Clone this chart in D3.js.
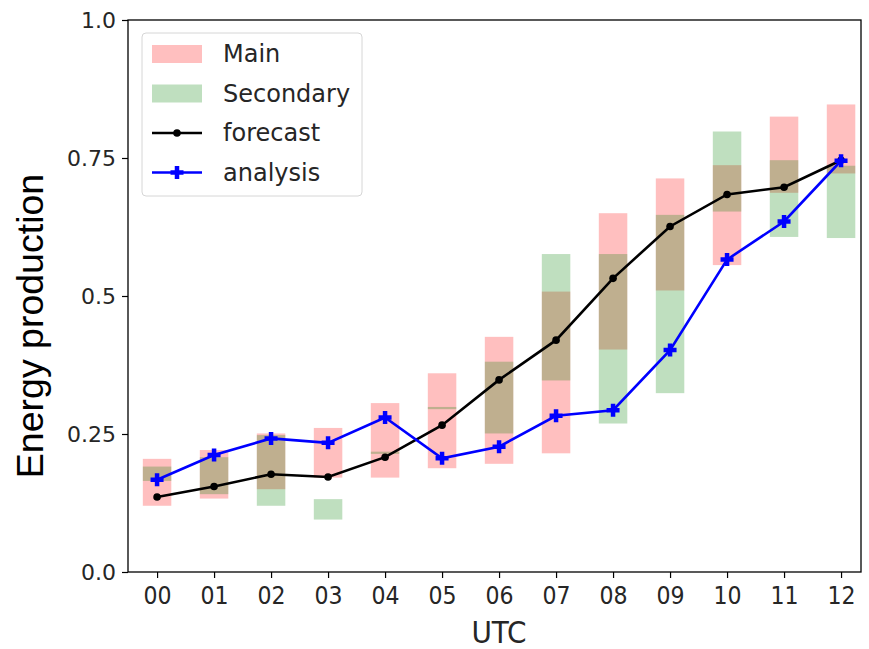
<!DOCTYPE html>
<html>
<head>
<meta charset="utf-8">
<script src="https://cdn.jsdelivr.net/npm/d3@7"></script>
<style>
  body { margin: 0; background: #fff; }
  svg { display: block; }
</style>
</head>
<body>
<div id="chart"></div>
<script>
// chart values
var hours = ["00", "01", "02", "03", "04", "05", "06", "07", "08", "09", "10", "11", "12"];
var mainLow  = [0.120, 0.133, 0.150, 0.171, 0.171, 0.188, 0.196, 0.215, 0.403, 0.510, 0.556, 0.687, 0.722];
var mainHigh = [0.205, 0.221, 0.251, 0.261, 0.306, 0.360, 0.426, 0.508, 0.650, 0.713, 0.737, 0.825, 0.847];
var secLow   = [0.165, 0.141, 0.120, 0.095, 0.214, 0.295, 0.251, 0.347, 0.269, 0.324, 0.653, 0.607, 0.605];
var secHigh  = [0.191, 0.208, 0.248, 0.132, 0.218, 0.299, 0.381, 0.576, 0.576, 0.647, 0.798, 0.746, 0.736];
var forecast = [0.136, 0.155, 0.177, 0.172, 0.208, 0.266, 0.348, 0.420, 0.532, 0.626, 0.684, 0.697, 0.746];
var analysis = [0.167, 0.212, 0.242, 0.234, 0.280, 0.206, 0.227, 0.283, 0.293, 0.402, 0.566, 0.635, 0.745];
var yTicks = [0, 0.25, 0.5, 0.75, 1.0];
var yTickLabels = ["0.0", "0.25", "0.5", "0.75", "1.0"];

var svgWidth = 869;
var svgHeight = 649;

var margin = { top: 20, right: 8, bottom: 77, left: 128 };
var width = svgWidth - margin.left - margin.right;
var height = svgHeight - margin.top - margin.bottom;

var svg = d3.select("#chart")
  .append("svg")
  .attr("width", svgWidth)
  .attr("height", svgHeight);

var chartGroup = svg.append("g")
  .attr("transform", `translate(${margin.left}, ${margin.top})`);

var xScale = d3.scaleLinear().domain([-0.51, 12.35]).range([0, width]);
var yScale = d3.scaleLinear().domain([0, 1]).range([height, 0]);
var barWidth = xScale(0.5) - xScale(0);

var tickFont = "'DejaVu Sans', sans-serif";
var textColor = "#262626";

// main bars (red, translucent)
chartGroup.append("g").selectAll("rect")
  .data(hours)
  .enter()
  .append("rect")
  .attr("x", (d, i) => xScale(i) - barWidth / 2)
  .attr("y", (d, i) => yScale(mainHigh[i]))
  .attr("width", barWidth)
  .attr("height", (d, i) => yScale(mainLow[i]) - yScale(mainHigh[i]))
  .attr("fill", "red")
  .attr("fill-opacity", 0.25);

// secondary bars (green, translucent)
chartGroup.append("g").selectAll("rect")
  .data(hours)
  .enter()
  .append("rect")
  .attr("x", (d, i) => xScale(i) - barWidth / 2)
  .attr("y", (d, i) => yScale(secHigh[i]))
  .attr("width", barWidth)
  .attr("height", (d, i) => Math.max(1.5, yScale(secLow[i]) - yScale(secHigh[i])))
  .attr("fill", "green")
  .attr("fill-opacity", 0.25);

// forecast line
var line = d3.line()
  .x((d, i) => xScale(i))
  .y(d => yScale(d));

chartGroup.append("path")
  .datum(forecast)
  .attr("d", line)
  .attr("fill", "none")
  .attr("stroke", "black")
  .attr("stroke-width", 2.6);

chartGroup.append("g").selectAll("circle")
  .data(forecast)
  .enter()
  .append("circle")
  .attr("cx", (d, i) => xScale(i))
  .attr("cy", d => yScale(d))
  .attr("r", 3.8)
  .attr("fill", "black");

// analysis line with plus markers
chartGroup.append("path")
  .datum(analysis)
  .attr("d", line)
  .attr("fill", "none")
  .attr("stroke", "blue")
  .attr("stroke-width", 2.6);

function plusPath(cx, cy, s) {
  return `M${cx - s},${cy}H${cx + s}M${cx},${cy - s}V${cy + s}`;
}

chartGroup.append("g").selectAll("path")
  .data(analysis)
  .enter()
  .append("path")
  .attr("d", (d, i) => plusPath(xScale(i), yScale(d), 6.5))
  .attr("stroke", "blue")
  .attr("stroke-width", 4.5)
  .attr("fill", "none");

// axes
var bottomAxis = d3.axisBottom(xScale)
  .tickValues(d3.range(hours.length))
  .tickFormat(i => hours[i])
  .tickSize(6)
  .tickSizeOuter(0);

var leftAxis = d3.axisLeft(yScale)
  .tickValues(yTicks)
  .tickFormat((d, i) => yTickLabels[i])
  .tickSize(6)
  .tickSizeOuter(0);

var xAxis = chartGroup.append("g")
  .attr("transform", `translate(0, ${height})`)
  .call(bottomAxis);

xAxis.selectAll("text")
  .attr("y", 12)
  .attr("dy", "0.82em")
  .style("font-family", "'DejaVu Sans Condensed', 'DejaVu Sans', sans-serif")
  .style("font-stretch", "condensed")
  .style("font-size", "24.5px")
  .attr("fill", textColor);

var yAxis = chartGroup.append("g")
  .call(leftAxis);

yAxis.selectAll("text")
  .attr("x", -12)
  .style("font-family", tickFont)
  .style("font-size", "22px")
  .attr("fill", textColor);

chartGroup.selectAll(".domain").remove();
chartGroup.selectAll(".tick line").attr("stroke", "black").attr("stroke-width", 1.2);

// frame
chartGroup.append("rect")
  .attr("x", 0)
  .attr("y", 0)
  .attr("width", width)
  .attr("height", height)
  .attr("fill", "none")
  .attr("stroke", "black")
  .attr("stroke-width", 1.3);

// axis labels
svg.append("text")
  .attr("transform", "translate(43, 326) rotate(-90)")
  .attr("text-anchor", "middle")
  .style("font-family", "'Liberation Sans', Arial, sans-serif")
  .style("font-size", "37.5px")
  .attr("fill", "black")
  .text("Energy production");

svg.append("text")
  .attr("x", 499)
  .attr("y", 643)
  .attr("text-anchor", "middle")
  .style("font-family", "'DejaVu Sans Condensed', 'DejaVu Sans', sans-serif")
  .style("font-stretch", "condensed")
  .style("font-size", "31px")
  .attr("fill", textColor)
  .text("UTC");

// legend
var legend = chartGroup.append("g")
  .attr("transform", "translate(14, 13)");

legend.append("rect")
  .attr("width", 220)
  .attr("height", 163)
  .attr("rx", 4)
  .attr("fill", "white")
  .attr("fill-opacity", 0.8)
  .attr("stroke", "#d6d6d6")
  .attr("stroke-width", 1);

var legendItems = [
  { label: "Main", kind: "bar", color: "red" },
  { label: "Secondary", kind: "bar", color: "green" },
  { label: "forecast", kind: "dot", color: "black" },
  { label: "analysis", kind: "plus", color: "blue" }
];

legendItems.forEach(function(item, i) {
  var cy = 21 + i * 39.5;
  var row = legend.append("g").attr("transform", `translate(0, ${cy})`);
  if (item.kind === "bar") {
    row.append("rect")
      .attr("x", 10)
      .attr("y", -9)
      .attr("width", 50)
      .attr("height", 18)
      .attr("fill", item.color)
      .attr("fill-opacity", 0.25);
  } else {
    row.append("line")
      .attr("x1", 10).attr("x2", 60)
      .attr("y1", 0).attr("y2", 0)
      .attr("stroke", item.color)
      .attr("stroke-width", 2.6);
    if (item.kind === "dot") {
      row.append("circle").attr("cx", 35).attr("cy", 0).attr("r", 3.8).attr("fill", item.color);
    } else {
      row.append("path")
        .attr("d", plusPath(35, 0, 6.5))
        .attr("stroke", item.color)
        .attr("stroke-width", 4.5);
    }
  }
  row.append("text")
    .attr("x", 81)
    .attr("y", 8)
    .style("font-family", tickFont)
    .style("font-size", "24px")
    .attr("fill", textColor)
    .text(item.label);
});
</script>
</body>
</html>
